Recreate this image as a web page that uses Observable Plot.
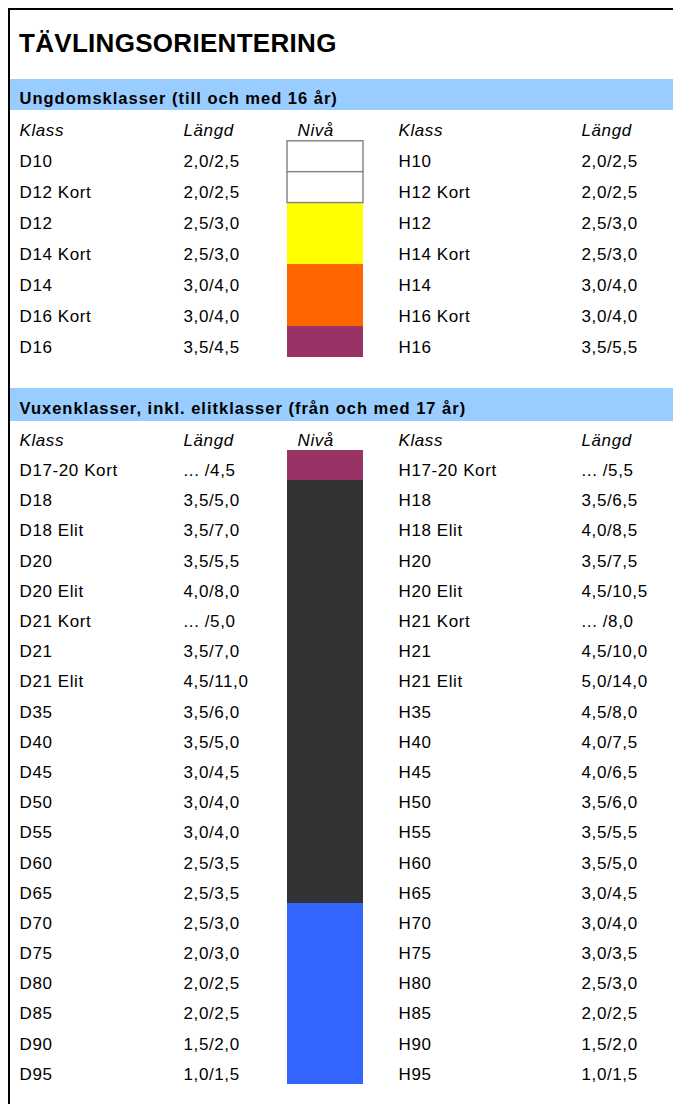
<!DOCTYPE html>
<html><head><meta charset="utf-8">
<script src="https://cdn.jsdelivr.net/npm/d3@7"></script>
<script src="https://cdn.jsdelivr.net/npm/@observablehq/plot@0.6"></script>
<style>
body{margin:0;background:#fff;}
#page{position:relative;width:673px;height:1104px;overflow:hidden;font-family:"Liberation Sans",Arial,sans-serif;background:#fff;}
#frame{position:absolute;left:8px;top:8px;right:0;bottom:0;border-left:2px solid #000;border-top:2px solid #000;}
#title{position:absolute;left:19px;top:30px;font-size:26px;line-height:26px;font-weight:bold;letter-spacing:0.3px;color:#000;}
.sec{position:absolute;left:10px;}
</style></head><body>
<div id="page"><div id="frame"></div><div id="title"></div><div id="s1" class="sec" style="top:79px"></div><div id="s2" class="sec" style="top:388px"></div></div>
<script>
// ---- data ----
const title = "TÄVLINGSORIENTERING";
const youthTitle = "Ungdomsklasser (till och med 16 år)";
const adultTitle = "Vuxenklasser, inkl. elitklasser (från och med 17 år)";
const headers = ["Klass", "Längd", "Nivå", "Klass", "Längd"];

const youthD = ["D10","D12 Kort","D12","D14 Kort","D14","D16 Kort","D16"];
const youthDLen = ["2,0/2,5","2,0/2,5","2,5/3,0","2,5/3,0","3,0/4,0","3,0/4,0","3,5/4,5"];
const youthH = ["H10","H12 Kort","H12","H14 Kort","H14","H16 Kort","H16"];
const youthHLen = ["2,0/2,5","2,0/2,5","2,5/3,0","2,5/3,0","3,0/4,0","3,0/4,0","3,5/5,5"];
const youthLevel = ["vit","vit","gul","gul","orange","orange","violett"];

const adultD = ["D17-20 Kort","D18","D18 Elit","D20","D20 Elit","D21 Kort","D21","D21 Elit","D35","D40","D45","D50","D55","D60","D65","D70","D75","D80","D85","D90","D95"];
const adultDLen = ["... /4,5","3,5/5,0","3,5/7,0","3,5/5,5","4,0/8,0","... /5,0","3,5/7,0","4,5/11,0","3,5/6,0","3,5/5,0","3,0/4,5","3,0/4,0","3,0/4,0","2,5/3,5","2,5/3,5","2,5/3,0","2,0/3,0","2,0/2,5","2,0/2,5","1,5/2,0","1,0/1,5"];
const adultH = ["H17-20 Kort","H18","H18 Elit","H20","H20 Elit","H21 Kort","H21","H21 Elit","H35","H40","H45","H50","H55","H60","H65","H70","H75","H80","H85","H90","H95"];
const adultHLen = ["... /5,5","3,5/6,5","4,0/8,5","3,5/7,5","4,5/10,5","... /8,0","4,5/10,0","5,0/14,0","4,5/8,0","4,0/7,5","4,0/6,5","3,5/6,0","3,5/5,5","3,5/5,0","3,0/4,5","3,0/4,0","3,0/3,5","2,5/3,0","2,0/2,5","1,5/2,0","1,0/1,5"];
const adultLevel = ["violett","svart","svart","svart","svart","svart","svart","svart","svart","svart","svart","svart","svart","svart","svart","blå","blå","blå","blå","blå","blå"];

const levels = ["vit","gul","orange","violett","svart","blå"];
const levelColors = ["#ffffff","#ffff00","#ff6600","#993366","#333333","#3366ff"];

// ---- layout ----
const columns = ["Klass D","Längd D","Nivå","Nivå text","Nivå slut","Klass H","Längd H","Kant"];
const columnStops = [9,173,277,287,353,388,571,663];
const headerColumns = ["Klass D","Längd D","Nivå text","Klass H","Längd H"];
const col = name => columns.indexOf(name);

document.getElementById("title").textContent = title;

function section({bandTitle, d, dLen, h, hLen, level, height, marginTop, marginBottom, bandInset}) {
  const rows = d.map((k, i) => ({d: k, dLen: dLen[i], h: h[i], hLen: hLen[i], level: level[i]}));
  const band = "band", head = "head";
  const txt = {fontSize: 17, textAnchor: "start", dy: 5, fill: "#000"};
  const svg = Plot.plot({
    width: 663, height, marginTop, marginBottom, marginLeft: 0, marginRight: 0,
    style: {fontFamily: "Liberation Sans, Arial, sans-serif", letterSpacing: "0.6px", background: "transparent", color: "#000"},
    x: {type: "linear", domain: d3.range(columns.length), range: columnStops, axis: null},
    y: {type: "band", domain: [band, head, ...d], padding: 0, round: false, axis: null},
    color: {type: "ordinal", domain: levels, range: levelColors},
    marks: [
      Plot.cell([band], {y: v => v, fill: "#99ccff", insetTop: -bandInset[0], insetBottom: -bandInset[1], shapeRendering: "crispEdges"}),
      Plot.text([band], {y: v => v, x: col("Klass D"), text: () => bandTitle, fontSize: 16.5, fontWeight: "bold", textAnchor: "start", dy: 4, fill: "#000"}),
      Plot.text(headers, {x: (v, i) => col(headerColumns[i]), y: () => head, text: v => v, fontStyle: "italic", ...txt}),
      Plot.barX(rows, {x1: col("Nivå"), x2: col("Nivå slut"), y: "d", fill: "level", shapeRendering: "crispEdges"}),
      Plot.barX(rows.filter(r => r.level === "vit"), {x1: col("Nivå"), x2: col("Nivå slut"), y: "d", fill: "#ffffff", stroke: "#808080", strokeWidth: 1.4}),
      Plot.text(rows, {x: col("Klass D"), y: "d", text: "d", ...txt}),
      Plot.text(rows, {x: col("Längd D"), y: "d", text: "dLen", ...txt}),
      Plot.text(rows, {x: col("Klass H"), y: "d", text: "h", ...txt}),
      Plot.text(rows, {x: col("Längd H"), y: "d", text: "hLen", ...txt})
    ]
  });
  d3.select(svg).selectAll("[font-weight=bold]").style("letter-spacing", "1px");
  return svg;
}

document.getElementById("s1").append(section({
  bandTitle: youthTitle, d: youthD, dLen: youthDLen, h: youthH, hLen: youthHLen, level: youthLevel,
  height: 309, marginTop: 0, marginBottom: 31, bandInset: [0, 0]
}));
document.getElementById("s2").append(section({
  bandTitle: adultTitle, d: adultD, dLen: adultDLen, h: adultH, hLen: adultHLen, level: adultLevel,
  height: 716, marginTop: 1.6, marginBottom: 20, bandInset: [1.6, 1.2]
}));
</script>
</body></html>
